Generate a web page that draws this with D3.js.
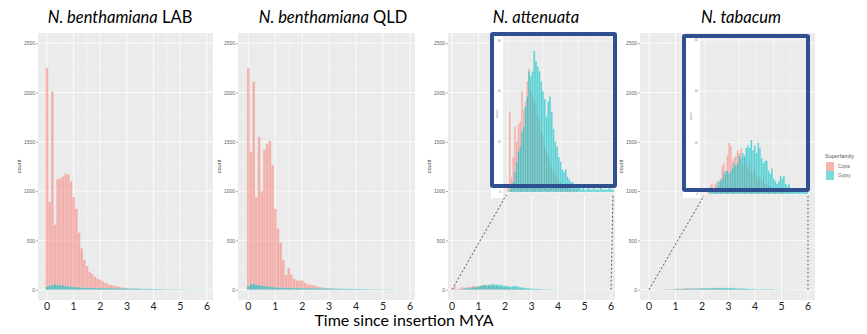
<!DOCTYPE html>
<html>
<head>
<meta charset="utf-8">
<script src="https://cdn.jsdelivr.net/npm/d3@7"></script>
<style>
  body { margin: 0; background: #fff; }
  svg { display: block; }
</style>
</head>
<body>
<svg id="chart" width="867" height="334"></svg>
<script>
// ---- data: LTR retrotransposon insertion-age histograms (bins of 0.1 MYA, 0.0 .. 6.0) ----
const superfamilies = ["Copia", "Gypsy"];
const binWidth = 0.1;
const xTicks = [0, 1, 2, 3, 4, 5, 6];
const yTicks = [0, 500, 1000, 1500, 2000, 2500];
const insetYTicks = [0, 20, 40, 60];
const titleItalic = ["N. benthamiana", "N. benthamiana", "N. attenuata", "N. tabacum"];
const titlePlain = [" LAB", " QLD", "", ""];
const xAxisTitle = "Time since insertion MYA";

const labCopia = [2250, 890, 2010, 660, 1120, 1130, 1150, 1180, 1170, 1100, 940, 820, 580, 420, 300, 240, 180, 160, 130, 110,
  100, 85, 70, 55, 48, 42, 36, 30, 24, 20, 16, 13, 11, 9, 8, 6, 5, 4, 4, 3,
  3, 2, 2, 2, 2, 1, 1, 1, 1, 1, 1, 1, 1, 0, 1, 0, 0, 1, 0, 0, 0];
const labGypsy = [30, 40, 45, 55, 45, 48, 42, 38, 34, 30, 28, 26, 24, 22, 20, 20, 19, 18, 18, 17,
  17, 16, 16, 15, 15, 15, 14, 14, 14, 13, 13, 12, 12, 11, 13, 10, 9, 9, 8, 8,
  7, 7, 6, 6, 5, 5, 5, 4, 4, 4, 4, 3, 3, 3, 3, 3, 2, 2, 2, 2, 2];

const qldCopia = [2250, 1400, 2110, 940, 1550, 1000, 1420, 1480, 1510, 1260, 820, 620, 480, 300, 150, 220, 150, 110, 95, 90,
  95, 70, 55, 50, 45, 40, 32, 26, 22, 18, 15, 12, 10, 8, 7, 6, 5, 4, 4, 3,
  3, 2, 2, 2, 2, 1, 1, 1, 1, 1, 1, 1, 1, 0, 1, 0, 0, 1, 0, 0, 0];
const qldGypsy = [35, 55, 60, 50, 45, 42, 38, 34, 30, 27, 24, 22, 21, 20, 19, 18, 18, 17, 17, 17,
  16, 16, 16, 15, 15, 15, 14, 14, 14, 13, 13, 12, 12, 11, 11, 10, 10, 9, 9, 8,
  8, 7, 7, 6, 6, 5, 5, 5, 4, 4, 4, 4, 3, 3, 3, 3, 3, 2, 2, 2, 2];

const attCopia = [3, 32, 6, 14, 26, 20, 27, 28, 40, 33, 36, 44, 49, 40, 38, 36, 34, 30, 28, 24,
  22, 18, 16, 14, 12, 10, 8, 7, 6, 5, 4, 3, 3, 2, 2, 2, 1, 1, 1, 1,
  1, 0, 0, 0, 0, 0, 0, 0, 0, 0, 0, 0, 0, 0, 0, 0, 0, 0, 0, 0, 0];
const attGypsy = [0, 1, 2, 4, 8, 12, 16, 18, 24, 26, 34, 38, 48, 46, 48, 56, 52, 50, 48, 44,
  40, 37, 30, 36, 38, 32, 25, 20, 18, 14, 12, 9, 8, 9, 6, 5, 4, 4, 3, 2,
  2, 2, 1, 2, 1, 1, 2, 1, 1, 2, 1, 1, 1, 2, 1, 1, 1, 1, 2, 1, 1];

const tabCopia = [0, 0, 1, 3, 4, 2, 4, 5, 3, 6, 11, 12, 8, 15, 20, 19, 13, 14, 15, 17,
  16, 18, 12, 14, 11, 10, 12, 9, 8, 10, 7, 6, 7, 5, 6, 4, 4, 3, 3, 2,
  2, 2, 1, 2, 1, 1, 1, 0, 1, 0, 1, 0, 0, 0, 0, 0, 0, 0, 0, 0, 0];
const tabGypsy = [0, 0, 0, 1, 1, 2, 2, 3, 5, 5, 6, 8, 9, 9, 8, 9, 10, 12, 11, 12,
  15, 14, 16, 15, 18, 19, 18, 21, 17, 19, 16, 20, 18, 14, 12, 13, 13, 9, 8, 10,
  6, 5, 4, 5, 7, 6, 7, 4, 3, 4, 2, 2, 1, 2, 1, 1, 1, 1, 1, 1, 1];

// ---- styling ----
const colors = { Copia: "#F8766D", Gypsy: "#00BFC4" };
const panelBg = "#EBEBEB";
const frameBlue = "#2F4F8E";
const uiFont = "Lato, 'Open Sans', sans-serif";
const rFont = "'Liberation Sans', Arial, sans-serif";

const svg = d3.select("#chart");

const toBins = vals => vals.map((v, i) => ({ x0: i * binWidth - binWidth / 2, x1: i * binWidth + binWidth / 2, v }));

const species = [
  { series: [labCopia, labGypsy], left: 38, right: 213, x0: 47, x6: 207, titleX: 120 },
  { series: [qldCopia, qldGypsy], left: 238, right: 415, x0: 248.3, x6: 410, titleX: 333 },
  { series: [attCopia, attGypsy], left: 448, right: 615, x0: 452, x6: 611, titleX: 536,
    inset: { fx: 490, fy: 32, fw: 127, fh: 156, plotL: 503, plotB: 195, whiteB: 198, ix0: 508, ix6: 613, iy0: 192, iy60: 41 } },
  { series: [tabCopia, tabGypsy], left: 640, right: 815, x0: 649, x6: 808, titleX: 741,
    inset: { fx: 682, fy: 34, fw: 128, fh: 158, plotL: 700, plotB: 196, whiteB: 198, ix0: 705, ix6: 808, iy0: 194, iy60: 40 } }
];

const plotTop = 33, plotBottom = 300;
const yMain = d3.scaleLinear().domain([0, 2500]).range([289.7, 43.2]);

function drawBars(g, x, y, series, clipId) {
  superfamilies.forEach((sf, k) => {
    g.append("g")
      .attr("clip-path", clipId ? `url(#${clipId})` : null)
      .selectAll("rect")
      .data(toBins(series[k]).filter(d => d.v > 0))
      .join("rect")
      .attr("x", d => x(d.x0))
      .attr("width", d => x(d.x1) - x(d.x0))
      .attr("y", d => y(d.v))
      .attr("height", d => y(0) - y(d.v))
      .attr("fill", colors[sf])
      .attr("fill-opacity", sf === "Copia" ? 0.5 : 0.6)
      .attr("stroke", "#ffffff")
      .attr("stroke-opacity", 0.3)
      .attr("stroke-width", 0.35);
  });
}

species.forEach((p, idx) => {
  const g = svg.append("g");
  const x = d3.scaleLinear().domain([0, 6]).range([p.x0, p.x6]);

  g.append("rect").attr("x", p.left).attr("y", plotTop).attr("width", p.right - p.left).attr("height", plotBottom - plotTop).attr("fill", panelBg);

  // grid
  const xMinor = d3.range(0.5, 6, 1);
  const yMinor = d3.range(250, 2600, 500);
  g.selectAll(".xmin").data(xMinor).join("line")
    .attr("x1", d => x(d)).attr("x2", d => x(d)).attr("y1", plotTop).attr("y2", plotBottom)
    .attr("stroke", "#F4F4F4").attr("stroke-width", 0.5);
  g.selectAll(".ymin").data(yMinor).join("line")
    .attr("x1", p.left).attr("x2", p.right).attr("y1", d => yMain(d)).attr("y2", d => yMain(d))
    .attr("stroke", "#F4F4F4").attr("stroke-width", 0.5);
  g.selectAll(".xmaj").data(xTicks).join("line")
    .attr("x1", d => x(d)).attr("x2", d => x(d)).attr("y1", plotTop).attr("y2", plotBottom)
    .attr("stroke", "#FFFFFF").attr("stroke-width", 0.8);
  g.selectAll(".ymaj").data(yTicks).join("line")
    .attr("x1", p.left).attr("x2", p.right).attr("y1", d => yMain(d)).attr("y2", d => yMain(d))
    .attr("stroke", "#FFFFFF").attr("stroke-width", 0.8);

  drawBars(g, x, yMain, p.series);

  // y axis (ggplot style)
  const yAxis = d3.axisLeft(yMain).tickValues(yTicks).tickSize(2).tickPadding(1).tickFormat(d3.format("d"));
  const ya = g.append("g").attr("transform", `translate(${p.left},0)`).call(yAxis);
  ya.select(".domain").remove();
  ya.selectAll(".tick line").attr("stroke", "#555").attr("stroke-width", 0.5);
  ya.selectAll(".tick text").attr("fill", "#666").attr("font-size", 5).attr("font-family", rFont);

  g.append("text")
    .attr("transform", `translate(${p.left - 17},${(plotTop + plotBottom) / 2}) rotate(-90)`)
    .attr("text-anchor", "middle").attr("font-size", 5.5).attr("font-family", rFont).attr("fill", "#444")
    .text("count");

  // x tick labels
  g.selectAll(".xl").data(xTicks).join("text")
    .attr("x", d => x(d)).attr("y", 309.5)
    .attr("text-anchor", "middle").attr("font-size", 10.5).attr("font-family", uiFont).attr("fill", "#222")
    .text(d => d);

  // title
  const t = g.append("text").attr("x", p.titleX).attr("y", 23).attr("text-anchor", "middle")
    .attr("font-size", 16.5).attr("font-family", uiFont).attr("fill", "#000");
  t.append("tspan").attr("font-style", "italic").text(titleItalic[idx]);
  if (titlePlain[idx]) t.append("tspan").text(titlePlain[idx]);

  // zoomed inset
  if (p.inset) {
    const s = p.inset;
    const ix = d3.scaleLinear().domain([0, 6]).range([s.ix0, s.ix6]);
    const iy = d3.scaleLinear().domain([0, 60]).range([s.iy0, s.iy60]);
    const sw = 4;
    const innerR = s.fx + s.fw - sw, innerT = s.fy + sw;

    // connector lines from main axis to inset axis
    const dash = [[x(0), yMain(0), ix(0), iy(0)], [x(6), yMain(0), ix(6), iy(0)]];
    g.selectAll(".conn").data(dash).join("line")
      .attr("x1", d => d[0]).attr("y1", d => d[1]).attr("x2", d => d[2]).attr("y2", d => d[3])
      .attr("stroke", "#555").attr("stroke-width", 1).attr("stroke-dasharray", "2,2");

    const ig = g.append("g");
    ig.append("rect").attr("x", s.fx + 1).attr("y", innerT).attr("width", s.plotL - s.fx - 1).attr("height", s.whiteB - innerT).attr("fill", "#fff");
    ig.append("rect").attr("x", s.plotL).attr("y", innerT).attr("width", innerR + 2 - s.plotL).attr("height", s.plotB - innerT).attr("fill", panelBg);

    const clipId = "clip" + idx;
    svg.append("defs").append("clipPath").attr("id", clipId)
      .append("rect").attr("x", s.plotL).attr("y", innerT).attr("width", innerR + 2 - s.plotL).attr("height", s.plotB - innerT);

    const gridG = ig.append("g").attr("clip-path", `url(#${clipId})`);
    gridG.selectAll("line.v").data(d3.range(0, 7, 1)).join("line")
      .attr("x1", d => ix(d)).attr("x2", d => ix(d)).attr("y1", innerT).attr("y2", s.plotB)
      .attr("stroke", d => d % 2 === 0 ? "#fff" : "#F4F4F4").attr("stroke-width", 0.6);
    gridG.selectAll("line.h").data(d3.range(0, 70, 10)).join("line")
      .attr("x1", s.plotL).attr("x2", innerR + 2).attr("y1", d => iy(d)).attr("y2", d => iy(d))
      .attr("stroke", d => d % 20 === 0 ? "#fff" : "#F4F4F4").attr("stroke-width", 0.6);

    drawBars(ig, ix, iy, p.series, clipId);

    ig.selectAll(".it").data(insetYTicks).join("text")
      .attr("x", s.plotL - 2).attr("y", d => iy(d) + 1).attr("text-anchor", "end")
      .attr("font-size", 3).attr("font-family", rFont).attr("fill", "#888").text(d => d);
    ig.append("text")
      .attr("transform", `translate(${s.fx + (s.plotL - s.fx) / 2 + 1},${(innerT + s.iy0) / 2}) rotate(-90)`)
      .attr("text-anchor", "middle").attr("font-size", 3).attr("font-family", rFont).attr("fill", "#888").text("count");

    g.append("rect").attr("x", s.fx + sw / 2).attr("y", s.fy + sw / 2).attr("width", s.fw - sw).attr("height", s.fh - sw)
      .attr("fill", "none").attr("stroke", frameBlue).attr("stroke-width", sw).attr("rx", 1);
  }
});

// legend
const lg = svg.append("g").attr("transform", "translate(825,0)");
lg.append("text").attr("x", 0).attr("y", 158).attr("font-size", 5.5).attr("font-family", rFont).attr("fill", "#555").text("Superfamily");
superfamilies.forEach((sf, k) => {
  const yy = 162 + k * 9;
  lg.append("rect").attr("x", 1).attr("y", yy).attr("width", 8).attr("height", 9).attr("fill", "#F2F2F2");
  lg.append("rect").attr("x", 1).attr("y", yy).attr("width", 8).attr("height", 9)
    .attr("fill", colors[sf]).attr("fill-opacity", 0.5);
  lg.append("text").attr("x", 13).attr("y", yy + 6.2).attr("font-size", 4.5).attr("font-family", rFont).attr("fill", "#666").text(sf);
});

// shared x-axis title
svg.append("text").attr("x", 404).attr("y", 326).attr("text-anchor", "middle")
  .attr("font-size", 16).attr("font-family", uiFont).attr("fill", "#000").text(xAxisTitle);
</script>
</body>
</html>
